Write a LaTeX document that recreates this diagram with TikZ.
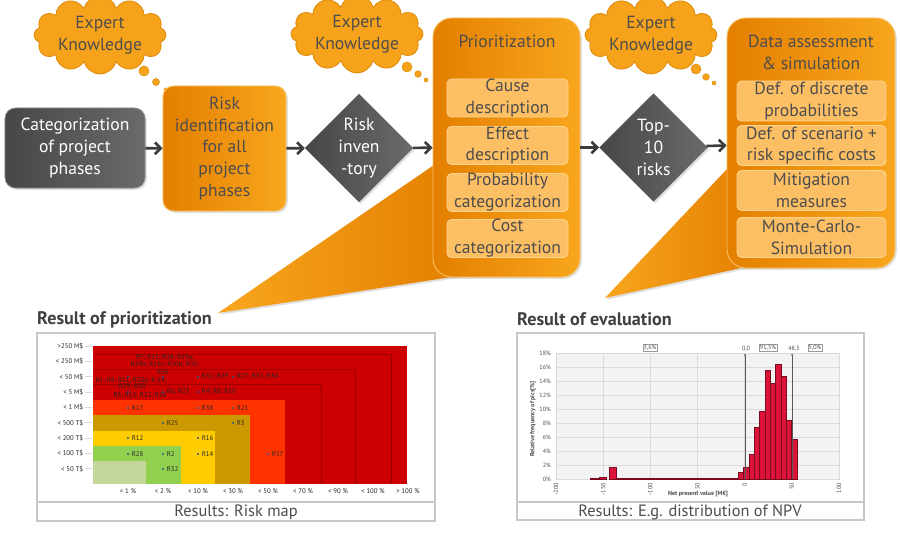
\documentclass[tikz,border=0pt]{standalone}
\usepackage{fontspec}
\setmainfont{PT Sans}
\usetikzlibrary{shapes.geometric,shapes.symbols,arrows.meta,shadows}
\definecolor{orDark}{HTML}{E47F00}
\definecolor{orLight}{HTML}{F8A61E}
\definecolor{orSub}{HTML}{FDBF63}
\definecolor{orSubEdge}{HTML}{FFD48E}
\definecolor{cloudOr}{HTML}{F6A21A}
\definecolor{cloudEdge}{HTML}{D98600}
\definecolor{gyDark}{HTML}{474747}
\definecolor{gyLight}{HTML}{6A6A6A}
\definecolor{txtGray}{HTML}{4D4D4D}
\definecolor{flowGray}{HTML}{3C3C3C}
\definecolor{panelGray}{HTML}{C8C8C8}
\definecolor{mapRed}{HTML}{CC0000}
\definecolor{mapRedLine}{HTML}{9E0000}
\definecolor{mapOrange}{HTML}{FF3300}
\definecolor{mapOchre}{HTML}{CC9900}
\definecolor{mapYellow}{HTML}{FFCC00}
\definecolor{mapGreen}{HTML}{92D050}
\definecolor{mapPale}{HTML}{C4D79B}
\definecolor{dotBlue}{HTML}{2B5A8C}
\definecolor{barRed}{HTML}{DC1439}
\definecolor{barEdge}{HTML}{7A0A1E}
\definecolor{plotBg}{HTML}{F3F3F3}
\definecolor{gridGray}{HTML}{DADADA}
\begin{document}
\begin{tikzpicture}[x=0.03cm,y=-0.03cm,
  >={Straight Barb[length=5pt,width=10pt]},
  lbl/.style={font=\fontsize{15}{18.6}\selectfont,align=center},
  shade/.style={drop shadow={opacity=0.25,shadow xshift=1.5pt,shadow yshift=-1.5pt}},
  orbox/.style={lbl,shade,rounded corners=9pt,left color=orDark,right color=orLight,draw=orLight!70!white,line width=0.8pt,text=txtGray,inner sep=0pt},
  subbox/.style={lbl,rounded corners=4pt,fill=orSub,draw=orSubEdge,line width=0.8pt,text=txtGray,inner sep=0pt},
  gybox/.style={lbl,shade,rounded corners=9pt,left color=gyDark,right color=gyLight,draw=gyLight!80!white,line width=0.6pt,text=white,inner sep=0pt},
  gydiam/.style={lbl,shade,diamond,aspect=1,left color=gyDark,right color=gyLight,text=white,inner sep=0pt,minimum size=3.25cm},
  thought/.style={lbl,cloud,cloud puffs=12,aspect=2.1,fill=cloudOr,draw=cloudEdge,line width=0.6pt,text=txtGray,minimum width=3.96cm,minimum height=1.86cm,inner sep=0pt},
  bubble/.style={fill=cloudOr,draw=cloudEdge,line width=0.4pt},
  flow/.style={->,draw=flowGray,line width=2.2pt},
  heading/.style={font=\fontsize{15.5}{18}\selectfont\bfseries,text=black!75,anchor=west,inner sep=0pt},
  caption/.style={font=\fontsize{14}{16}\selectfont,text=txtGray},
  panel/.style={draw=panelGray,line width=1.2pt},
  maptxt/.style={font=\fontsize{5.8}{7}\selectfont,text=black!85,inner sep=0.5pt},
  histtxt/.style={font=\fontsize{5.2}{6}\selectfont,text=black!70,inner sep=0.8pt},
  grid/.style={draw=gridGray,line width=0.4pt},
  bar/.style={fill=barRed,draw=barEdge,line width=0.3pt},
  marker/.style={draw=black!65,line width=0.5pt}]
\useasboundingbox (0,0) rectangle (900,540);
\fill[white] (0,0) rectangle (900,540);

% callouts to the result panels
\coordinate (tipA) at (218,313);
\coordinate (tipB) at (605,298);
\shade[left color=orLight,right color=orDark] (tipA) -- (434,165) -- (458,276) -- cycle;
\shade[left color=orLight,right color=orDark] (tipB) -- (728,168) -- (750,266) -- cycle;

% expert knowledge clouds
\node[thought] (cloudA) at (100,35) {Expert\\Knowledge};
\fill[bubble] (144,71) circle (5) (156,82) circle (3.5) (166,90) circle (2);
\node[thought] (cloudB) at (357,34) {Expert\\Knowledge};
\fill[bubble] (407,67) circle (5) (418,74) circle (3.3) (426,80) circle (2);
\node[thought] (cloudC) at (651,35) {Expert\\Knowledge};
\fill[bubble] (696,69) circle (5) (706,77) circle (3.3) (714,83) circle (2);

% process chain
\node[gybox,minimum width=4.2cm,minimum height=2.4cm] (cat) at (75,148) {Categorization\\of project\\phases};
\node[orbox,minimum width=3.69cm,minimum height=3.75cm] (riskid) at (224.5,148.5) {Risk\\identification\\for all\\project\\phases};
\node[gydiam] (riskinv) at (359,148) {Risk\\inven\\-tory};
\node[orbox,rounded corners=16pt,minimum width=4.41cm,minimum height=7.77cm] (prio) at (506.5,147.5) {};
\node[lbl,text=txtGray] (priotitle) at (507,41) {Prioritization};
\foreach \y/\t [count=\i] in {98/{Cause\\description},145.5/{Effect\\description},192.5/{Probability\\categorization},238.5/{Cost\\categorization}}
  \node[subbox,minimum width=3.63cm,minimum height=1.14cm] (prio\i) at (507.5,\y) {\t};
\node[gydiam] (top10) at (653.5,147.5) {Top-\\10\\risks};
\node[orbox,rounded corners=16pt,minimum width=5.04cm,minimum height=7.5cm] (data) at (811,143) {};
\node[lbl,text=txtGray] (datatitle) at (811,52) {Data assessment\\\& simulation};
\foreach \y/\t [count=\i] in {101/{Def. of discrete\\probabilities},145.5/{Def. of scenario +\\risk specific costs},190.5/{Mitigation\\measures},237.5/{Monte-Carlo-\\Simulation}}
  \node[subbox,minimum width=4.47cm,minimum height=1.2cm] (data\i) at (811.5,\y) {\t};
\draw[flow] (cat) -- (riskid);
\draw[flow] (riskid) -- (riskinv);
\draw[flow] (riskinv) -- (prio);
\draw[flow] (prio) -- (top10);
\draw[flow] (top10) -- (data);

% risk map panel
\node[heading] (headA) at (37,320) {Result of prioritization};
\fill[white] (37,333) rectangle (435,521);
\draw[panel] (37,333) rectangle (435,521);
\draw[panel] (37,502) -- (435,502);
\node[caption] (capA) at (236,512) {Results: Risk map};
\fill[mapRed] (93,346) rectangle (407,484);
\draw[mapRedLine,line width=0.5pt] (93,354) -| (391,484) (93,369) -| (355,484) (93,384) -| (321,484);
\fill[mapOrange] (93,400) rectangle (285,484);
\fill[mapOchre] (93,415) rectangle (250,484);
\fill[mapYellow] (93,431) rectangle (215,484);
\fill[mapGreen] (93,446) rectangle (181,484);
\fill[mapPale] (93,461) rectangle (146,484);
\foreach \t [count=\i from 0] in {>250 M\$,< 250 M\$,< 50 M\$,< 5 M\$,< 1 M\$,< 500 T\$,< 200 T\$,< 100 T\$,< 50 T\$}{
  \draw[grid] (85,346+15.33*\i) -- (92,346+15.33*\i);
  \node[maptxt,anchor=east] (ml\i) at (84,346+15.33*\i) {\t};
}
\foreach \t [count=\i from 0] in {< 1 \%,< 2 \%,< 10 \%,< 30 \%,< 50 \%,< 70 \%,< 90 \%,< 100 \%,> 100 \%}
  \node[maptxt] (mx\i) at (128+35*\i,491) {\t};
\foreach \x/\y in {128/377,163/377,198/377,233/377,128/392,163/392,198/392,128/408,198/408,233/408,163/423,233/423,128/438,198/438,128/454,163/454,198/454,268/454,163/469}
  \fill[dotBlue] (\x,\y) circle (1.2);
\foreach \x/\y/\t [count=\i] in {198/377/R31; R39,233/377/R27; R33; R34,163/392/R6; R23,198/392/R4; R8; R10,128/408/R17,198/408/R38,233/408/R21,163/423/R25,233/423/R3,128/438/R12,198/438/R16,128/454/R28,163/454/R2,198/454/R14,268/454/R37,163/469/R32}
  \node[maptxt,anchor=west] (rk\i) at (\x+3,\y) {\t};
\foreach \x/\y/\t [count=\i] in {165/358/R7; R15; R18; R19a;,165/365/R19b; R19c; R20b; R35;,163/372/R36,131/381/R1; R9; R11; R20a; R 24;,132/387/R29; R30,140/396/R5; R13; R22; R26}
  \node[maptxt] (rc\i) at (\x,\y) {\t};

% npv histogram panel
\node[heading] (headB) at (517,319) {Result of evaluation};
\fill[white] (517,333) rectangle (864,520);
\draw[panel] (517,333) rectangle (864,520);
\draw[panel] (517,502) -- (864,502);
\node[caption] (capB) at (690,512) {Results: E.g. distribution of NPV};
\fill[plotBg] (556,353) rectangle (840,479);
\foreach \k [evaluate=\k as \p using int(2*\k)] in {0,...,9}{
  \draw[grid] (556,479-14*\k) -- (840,479-14*\k);
  \node[histtxt,anchor=east] (hy\k) at (552,479-14*\k) {\p\%};
}
\foreach \v [count=\i from 0] in {-200,-150,-100,-50,0,50,100}{
  \draw[grid] (556+47.17*\i,353) -- (556+47.17*\i,479);
  \node[histtxt,rotate=90,anchor=east] (hx\i) at (556+47.17*\i,482) {\v};
}
\draw[bar] (590,479) rectangle (598,478.3) (599,479) rectangle (606,477) (609,479) rectangle (616,467);
\draw[bar] (616,479) rectangle (728,478.4) (728,479) rectangle (738,478);
\foreach \h [count=\i from 0] in {7.3,11.7,24.7,51.7,68,109,95.7,114.7,103,59,40}
  \draw[bar] (738+5.36*\i,479) rectangle ++(5.36,-\h);
\draw[marker] (745,355) -- (745,479) (792,355) -- (792,479);
\fill[black!65] (745,355) circle (1) (792,355) circle (1);
\node[histtxt,draw=black!40,line width=0.3pt] (p36) at (650,348) {3,6\%};
\node[histtxt] (v00) at (746,349) {0,0};
\node[histtxt,draw=black!40,line width=0.3pt] (p915) at (768,348) {91,5\%};
\node[histtxt] (v485) at (794,349) {48,5};
\node[histtxt,draw=black!40,line width=0.3pt] (p50) at (815,348) {5,0\%};
\node[histtxt,font=\fontsize{5.2}{6}\selectfont\bfseries] (hxt) at (698,494) {Net present value [M€]};
\node[histtxt,font=\fontsize{5.2}{6}\selectfont\bfseries,rotate=90] (hyt) at (533,419) {Relative frequency of pics[\%]};
\end{tikzpicture}
\end{document}
